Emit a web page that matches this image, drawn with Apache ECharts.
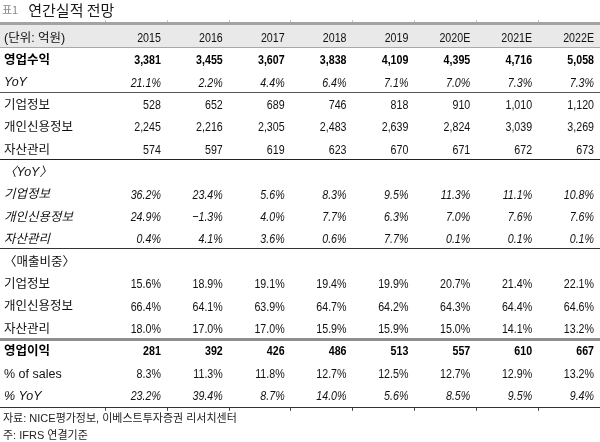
<!DOCTYPE html>
<html>
<head>
<meta charset="utf-8">
<script src="https://cdn.jsdelivr.net/npm/echarts@6/dist/echarts.min.js"></script>
<style>
  html, body { margin: 0; padding: 0; background: #fff; }
  #chart { width: 600px; height: 442px; }
</style>
</head>
<body>
<div id="chart"></div>
<script>
// 표 데이터
const years = ['2015', '2016', '2017', '2018', '2019', '2020E', '2021E', '2022E'];
const revenue = [3381, 3455, 3607, 3838, 4109, 4395, 4716, 5058];
const revenueYoy = [21.1, 2.2, 4.4, 6.4, 7.1, 7.0, 7.3, 7.3];
const corpInfo = [528, 652, 689, 746, 818, 910, 1010, 1120];
const personalCredit = [2245, 2216, 2305, 2483, 2639, 2824, 3039, 3269];
const assetMgmt = [574, 597, 619, 623, 670, 671, 672, 673];
const corpInfoYoy = [36.2, 23.4, 5.6, 8.3, 9.5, 11.3, 11.1, 10.8];
const personalCreditYoy = [24.9, -1.3, 4.0, 7.7, 6.3, 7.0, 7.6, 7.6];
const assetMgmtYoy = [0.4, 4.1, 3.6, 0.6, 7.7, 0.1, 0.1, 0.1];
const corpInfoShare = [15.6, 18.9, 19.1, 19.4, 19.9, 20.7, 21.4, 22.1];
const personalCreditShare = [66.4, 64.1, 63.9, 64.7, 64.2, 64.3, 64.4, 64.6];
const assetMgmtShare = [18.0, 17.0, 17.0, 15.9, 15.9, 15.0, 14.1, 13.2];
const opProfit = [281, 392, 426, 486, 513, 557, 610, 667];
const opMargin = [8.3, 11.3, 11.8, 12.7, 12.5, 12.7, 12.9, 13.2];
const opProfitYoy = [23.2, 39.4, 8.7, 14.0, 5.6, 8.5, 9.5, 9.4];

// 행 구성: 라벨, 값, 표시형식, 글꼴 스타일
const rows = [
  { label: '(단위: 억원)', values: years, fmt: 'text', style: 'n' },
  { label: '영업수익', values: revenue, fmt: 'num', style: 'b' },
  { label: 'YoY', values: revenueYoy, fmt: 'pct', style: 'i' },
  { label: '기업정보', values: corpInfo, fmt: 'num', style: 'n' },
  { label: '개인신용정보', values: personalCredit, fmt: 'num', style: 'n' },
  { label: '자산관리', values: assetMgmt, fmt: 'num', style: 'n' },
  { label: '〈YoY〉', values: null, fmt: 'none', style: 'i' },
  { label: '기업정보', values: corpInfoYoy, fmt: 'pct', style: 'i' },
  { label: '개인신용정보', values: personalCreditYoy, fmt: 'pct', style: 'i' },
  { label: '자산관리', values: assetMgmtYoy, fmt: 'pct', style: 'i' },
  { label: '〈매출비중〉', values: null, fmt: 'none', style: 'n' },
  { label: '기업정보', values: corpInfoShare, fmt: 'pct', style: 'n' },
  { label: '개인신용정보', values: personalCreditShare, fmt: 'pct', style: 'n' },
  { label: '자산관리', values: assetMgmtShare, fmt: 'pct', style: 'n' },
  { label: '영업이익', values: opProfit, fmt: 'num', style: 'b' },
  { label: '% of sales', values: opMargin, fmt: 'pct', style: 'n' },
  { label: '% YoY', values: opProfitYoy, fmt: 'pct', style: 'i' }
];

// 구분선: 몇 번째 행 위에 긋는지, 선 종류
const ruleRows = [0, 1, 3, 6, 10, 14, 17];
const ruleStyles = [
  { color: '#a3a3a3', width: 3, dy: -4 },
  { color: '#a8a8a8', width: 1, dy: -2 },
  { color: '#555', width: 1, dy: -2 },
  { color: '#222', width: 1, dy: -2 },
  { color: '#333', width: 1, dy: -3 },
  { color: '#8f8f8f', width: 3, dy: -2 },
  { color: '#333', width: 1, dy: -1 }
];

const FONT = '"Liberation Sans", Arial, "Noto Sans CJK KR", sans-serif';
const KFONT = '"Noto Sans CJK KR", sans-serif';
const NARROW = 0.82;

function fmtValue(v, fmt) {
  if (fmt === 'text') return v;
  if (fmt === 'num') return v.toLocaleString('en-US');
  const s = Math.abs(v).toFixed(1) + '%';
  return v < 0 ? '\u2212' + s : s;
}

const cells = [];
rows.forEach((r, ri) => {
  if (!r.values) return;
  r.values.forEach((v, ci) => {
    cells.push({ col: ci, row: ri, text: fmtValue(v, r.fmt), style: r.style });
  });
});

const rowKeys = rows.map((r, i) => 'r' + i);

const myChart = echarts.init(document.getElementById('chart'));

function fontFor(style, size, family) {
  if (style === 'b') return 'bold ' + size + 'px ' + family;
  if (style === 'i') return 'italic ' + size + 'px ' + family;
  return size + 'px ' + family;
}

function boundaryY(api, idx) {
  const h = api.size([0, 1])[1];
  if (idx < rowKeys.length) return api.coord([0, idx])[1] - h / 2;
  return api.coord([0, rowKeys.length - 1])[1] + h / 2;
}

const option = {
  animation: false,
  title: [
    {
      text: '{a|표1}  {b|연간실적 전망}',
      left: 2,
      top: 1,
      padding: 0,
      textStyle: {
        fontWeight: 'normal',
        rich: {
          a: { fontSize: 11, color: '#8a8a8a', fontFamily: KFONT, fontWeight: 'normal' },
          b: { fontSize: 15, color: '#1a1a1a', fontFamily: KFONT, fontWeight: 'normal' }
        }
      }
    },
    {
      text: '자료: NICE평가정보, 이베스트투자증권 리서치센터',
      left: 3,
      top: 413,
      padding: 0,
      textStyle: { fontSize: 11, fontWeight: 'normal', color: '#222', fontFamily: FONT }
    },
    {
      text: '주: IFRS 연결기준',
      left: 3,
      top: 430,
      padding: 0,
      textStyle: { fontSize: 11, fontWeight: 'normal', color: '#222', fontFamily: FONT }
    }
  ],
  grid: { left: 105, right: 0, top: 27, height: 380.8 },
  xAxis: [
    {
      type: 'category',
      data: years,
      position: 'bottom',
      axisLine: { show: false },
      axisTick: { show: true, length: 3, lineStyle: { color: '#444' } },
      axisLabel: { show: false },
      splitLine: { show: false }
    },
    {
      type: 'category',
      data: years,
      position: 'top',
      offset: 5,
      axisLine: { show: false },
      axisTick: { show: true, length: 2, lineStyle: { color: '#c4c4c4' } },
      axisLabel: { show: false },
      splitLine: { show: false }
    }
  ],
  yAxis: {
    type: 'category',
    data: rowKeys,
    inverse: true,
    z: 10,
    axisLine: { show: false },
    axisTick: { show: false },
    splitLine: { show: false },
    axisLabel: {
      align: 'left',
      margin: 101,
      formatter: (val, idx) => '{' + rows[idx].style + '|' + rows[idx].label + '}',
      rich: {
        n: { fontSize: 12.5, color: '#111', fontFamily: FONT },
        b: { fontSize: 12.5, color: '#000', fontWeight: 'bold', fontFamily: FONT },
        i: { fontSize: 12.5, color: '#111', fontStyle: 'italic', fontFamily: FONT }
      }
    }
  },
  series: [
    {
      // 헤더 배경
      type: 'custom',
      name: 'header',
      z: -1,
      data: [[0, 0]],
      renderItem: (params, api) => {
        const top = boundaryY(api, 0) + ruleStyles[0].dy;
        const bottom = boundaryY(api, 1) + ruleStyles[1].dy;
        return {
          type: 'rect',
          shape: { x: 0, y: top, width: api.getWidth(), height: bottom - top },
          style: { fill: '#e9e9e9' }
        };
      }
    },
    {
      // 구분선
      type: 'custom',
      name: 'rules',
      z: 3,
      data: ruleRows.map((r, i) => [0, r, i]),
      renderItem: (params, api) => {
        const st = ruleStyles[api.value(2)];
        const y = Math.round(boundaryY(api, api.value(1)) + st.dy) + (st.width % 2 ? 0.5 : 0);
        return {
          type: 'line',
          shape: { x1: 0, y1: y, x2: api.getWidth(), y2: y },
          style: { stroke: st.color, lineWidth: st.width }
        };
      }
    },
    {
      // 셀 값 (좁은 글꼴 느낌으로 가로 압축)
      type: 'custom',
      name: 'cells',
      z: 4,
      data: cells.map(c => [c.col, c.row]),
      renderItem: (params, api) => {
        const c = cells[params.dataIndex];
        const p = api.coord([c.col, c.row]);
        const bw = api.size([1, 0])[0];
        return {
          type: 'text',
          x: p[0] + bw / 2 - 6,
          y: p[1],
          scaleX: NARROW,
          style: {
            text: c.text,
            x: 0,
            y: 0,
            align: 'right',
            verticalAlign: 'middle',
            fill: c.style === 'b' ? '#000' : '#111',
            font: fontFor(c.style, 13, FONT)
          }
        };
      }
    }
  ]
};

myChart.setOption(option);
window.onresize = function () {
  myChart.resize();
};
</script>
</body>
</html>
